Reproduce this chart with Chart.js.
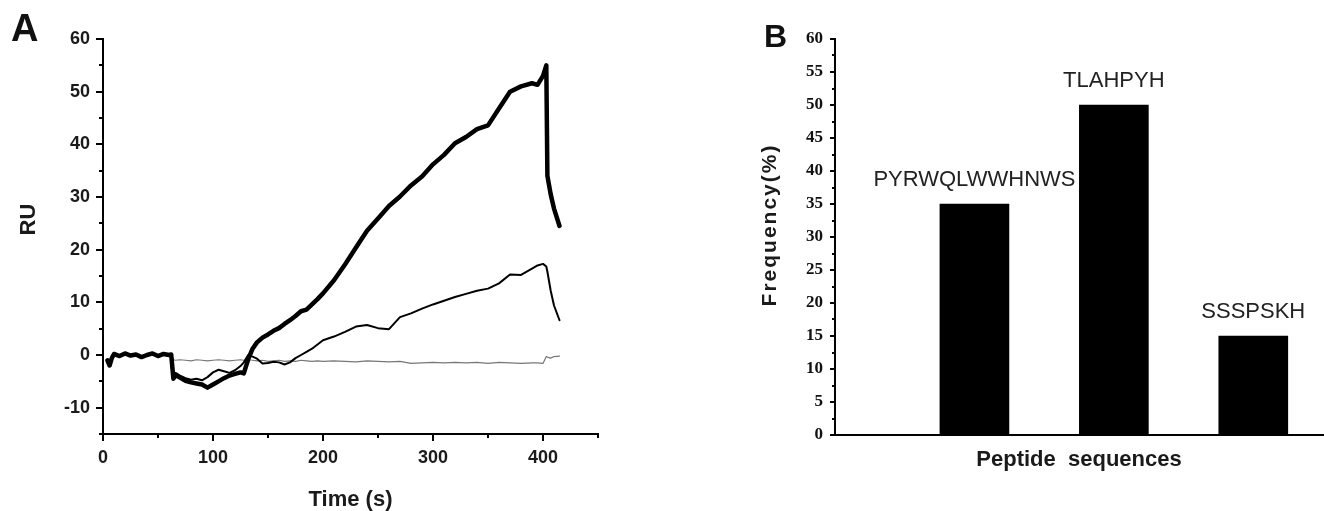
<!DOCTYPE html>
<html>
<head>
<meta charset="utf-8">
<script src="https://cdn.jsdelivr.net/npm/chart.js@4.4.0/dist/chart.umd.min.js"></script>
<style>
    body { margin: 0; background: #fff; width: 1324px; height: 511px; position: relative; overflow: hidden; font-family: "Liberation Sans", Arial, sans-serif; }
    .wrap { position: absolute; top: 0; height: 511px; }
    #wrapA { left: 0; width: 660px; }
    #wrapB { left: 660px; width: 664px; }
    .panel { position: absolute; font-weight: bold; color: #111; line-height: 1; }
</style>
</head>
<body>
<div class="wrap" id="wrapA"><canvas id="chartA"></canvas></div>
<div class="wrap" id="wrapB"><canvas id="chartB"></canvas></div>
<div class="panel" style="left:11px;top:9px;font-size:38px">A</div>
<div class="panel" style="left:764px;top:20px;font-size:32px">B</div>
<script>
// Panel A - sensorgram (RU vs time)
const timeSec = [4, 6, 8, 10, 15, 20, 25, 30, 35, 40, 45, 50, 55, 60, 62,
    64, 66, 70, 75, 80, 85, 90, 95, 100, 105, 110, 115, 120, 125, 128,
    132, 136,
    140, 145, 150, 155, 160, 165, 170, 175, 180, 185, 190, 195, 200,
    210, 220, 230, 240, 250, 260, 270, 280, 290, 300, 310, 320, 330, 340, 350, 360, 370, 380, 390,
    395, 400, 403, 404, 407, 410, 415];

const thickRU = [-1, -2, -0.6, 0.2, -0.2, 0.3, -0.1, 0.1, -0.4, 0, 0.3, -0.2, 0.2, 0, 0.1,
    -4.5, -3.8, -4.3, -4.9, -5.2, -5.4, -5.6, -6.2, -5.6, -5, -4.4, -3.9, -3.6, -3.3, -3.5,
    -0.8, 1.2,
    2.4, 3.3, 3.9, 4.6, 5.1, 5.9, 6.6, 7.4, 8.3, 8.6, 9.6, 10.6, 11.7,
    14.2, 17.2, 20.4, 23.6, 25.9, 28.3, 30.1, 32.2, 33.9, 36.2, 38, 40.2, 41.4, 42.9, 43.6, 46.8, 50, 51, 51.6,
    51.3, 53, 55, 34, 30.5, 27.8, 24.5];

const mediumRU = [-1, -2, -0.6, 0.2, -0.2, 0.3, -0.1, 0.1, -0.4, 0, 0.3, -0.2, 0.2, 0, 0.1,
    -4, -3.4, -3.9, -4.4, -4.7, -4.5, -4.8, -4.2, -3.3, -2.8, -3.1, -3.4, -2.9, -2.1, -1.4,
    0, -0.3,
    -0.7, -1.6, -1.5, -1.3, -1.4, -1.8, -1.4, -0.6, 0, 0.6, 1.2, 2, 2.8,
    3.5, 4.4, 5.4, 5.7, 5.1, 4.9, 7.2, 7.9, 8.8, 9.6, 10.3, 11, 11.6, 12.2, 12.6, 13.6, 15.3, 15.2, 16.4,
    17, 17.3, 16.8, 15.8, 12.2, 9.4, 6.6];

const thinRU = [-1, -2, -0.6, 0.2, -0.2, 0.3, -0.1, 0.1, -0.4, 0, 0.3, -0.2, 0.2, 0, 0.1,
    -0.9, -1, -0.9, -1, -1.1, -0.9, -1, -1.1, -1, -0.9, -1, -1.1, -1, -0.9, -1,
    -0.9, -1,
    -1.1, -1, -1.2, -1.1, -1, -1.2, -1.1, -1.2, -1, -1.1, -1.2, -1.1, -1.2,
    -1.1, -1.2, -1.3, -1.1, -1.2, -1.3, -1.2, -1.6, -1.5, -1.4, -1.5, -1.4, -1.5, -1.4, -1.6, -1.4, -1.5, -1.6, -1.5,
    -1.5, -1.6, -0.3, -0.4, -0.6, -0.3, -0.2];

const xTicksA = [0, 100, 200, 300, 400];
const yTicksA = [-10, 0, 10, 20, 30, 40, 50, 60];

// Panel B - peptide frequency
const peptides = ['PYRWQLWWHNWS', 'TLAHPYH', 'SSSPSKH'];
const peptidePos = [1, 2, 3];
const frequency = [35, 50, 15];
const yTicksB = [0, 5, 10, 15, 20, 25, 30, 35, 40, 45, 50, 55, 60];

const sans = '"Liberation Sans", Arial, sans-serif';
const serif = '"Liberation Serif", "Times New Roman", serif';

// outward tick marks, long on major values and short in between
const tickMarks = {
    id: 'tickMarks',
    afterDraw(chart, args, opts) {
        const ctx = chart.ctx;
        (opts.axes || []).forEach(function(a) {
            const scale = chart.scales[a.id];
            ctx.save();
            ctx.strokeStyle = '#000';
            ctx.lineWidth = 2;
            for (let v = scale.min; v <= scale.max + 1e-9; v += a.minor) {
                const q = v / a.major;
                const len = Math.abs(q - Math.round(q)) < 1e-6 ? a.majorLen : a.minorLen;
                const p = Math.round(scale.getPixelForValue(v));
                ctx.beginPath();
                if (scale.isHorizontal()) {
                    ctx.moveTo(p, scale.top);
                    ctx.lineTo(p, scale.top + len);
                } else {
                    ctx.moveTo(scale.right - len, p);
                    ctx.lineTo(scale.right, p);
                }
                ctx.stroke();
            }
            ctx.restore();
        });
    }
};

// rotated y-axis title, placed a bit off the axis centre like the original
const yTitle = {
    id: 'yTitle',
    afterDraw(chart, args, o) {
        const ctx = chart.ctx;
        const area = chart.chartArea;
        ctx.save();
        ctx.translate(o.x, (area.top + area.bottom) / 2 + o.dy);
        ctx.rotate(-Math.PI / 2);
        ctx.font = 'bold ' + o.size + 'px ' + sans;
        ctx.letterSpacing = o.spacing || '0px';
        ctx.fillStyle = '#1a1a1a';
        ctx.textAlign = 'center';
        ctx.textBaseline = 'middle';
        ctx.fillText(o.text, 0, 0);
        ctx.restore();
    }
};

const barNames = {
    id: 'barNames',
    afterDatasetsDraw(chart) {
        const ctx = chart.ctx;
        const meta = chart.getDatasetMeta(0);
        ctx.save();
        ctx.font = '22px ' + sans;
        ctx.fillStyle = '#222';
        ctx.textAlign = 'center';
        ctx.textBaseline = 'middle';
        meta.data.forEach(function(bar, i) {
            ctx.fillText(peptides[i], bar.x, bar.y - 24);
        });
        ctx.restore();
    }
};

function series(values) {
    return values.map(function(v, i) { return { x: timeSec[i], y: v }; });
}

new Chart(document.getElementById('chartA').getContext('2d'), {
    type: 'line',
    data: {
        datasets: [
            { data: series(thickRU), borderColor: '#000', borderWidth: 4.5 },
            { data: series(mediumRU), borderColor: '#000', borderWidth: 2 },
            { data: series(thinRU), borderColor: '#777', borderWidth: 1.2 }
        ]
    },
    options: {
        responsive: true,
        maintainAspectRatio: false,
        animation: false,
        elements: { point: { radius: 0 }, line: { tension: 0, borderJoinStyle: 'round', borderCapStyle: 'round' } },
        layout: { padding: { left: 0, top: 39, right: 62, bottom: 0 } },
        plugins: {
            legend: { display: false },
            tooltip: { enabled: false },
            tickMarks: {
                axes: [
                    { id: 'x', minor: 50, major: 100, majorLen: 7, minorLen: 4 },
                    { id: 'y', minor: 5, major: 10, majorLen: 7, minorLen: 4 }
                ]
            },
            yTitle: { text: 'RU', x: 29, dy: -17, size: 22 }
        },
        scales: {
            x: {
                type: 'linear',
                min: 0,
                max: 450,
                afterBuildTicks: function(s) { s.ticks = xTicksA.map(function(v) { return { value: v }; }); },
                afterFit: function(s) { s.height = 77; },
                grid: { display: false, drawTicks: false },
                border: { display: true, color: '#000', width: 2 },
                ticks: { color: '#1a1a1a', padding: 13, maxRotation: 0, font: { family: sans, size: 18, weight: 'bold' } },
                title: { display: true, text: 'Time (s)', color: '#1a1a1a', padding: { top: 0, bottom: -2 }, font: { family: sans, size: 22, weight: 'bold' } }
            },
            y: {
                min: -15,
                max: 60,
                afterBuildTicks: function(s) { s.ticks = yTicksA.map(function(v) { return { value: v }; }); },
                afterFit: function(s) { s.width = 103; },
                grid: { display: false, drawTicks: false },
                border: { display: true, color: '#000', width: 2 },
                ticks: { color: '#1a1a1a', padding: 13, font: { family: sans, size: 18, weight: 'bold' } }
            }
        }
    },
    plugins: [tickMarks, yTitle]
});

new Chart(document.getElementById('chartB').getContext('2d'), {
    type: 'bar',
    data: {
        datasets: [{
            data: frequency.map(function(v, i) { return { x: peptidePos[i], y: v }; }),
            backgroundColor: '#000',
            borderWidth: 0,
            barThickness: 69
        }]
    },
    options: {
        responsive: true,
        maintainAspectRatio: false,
        animation: false,
        layout: { padding: { left: 0, top: 39, right: 1, bottom: 0 } },
        plugins: {
            legend: { display: false },
            tooltip: { enabled: false },
            tickMarks: {
                axes: [
                    { id: 'y', minor: 2.5, major: 5, majorLen: 5, minorLen: 3 }
                ]
            },
            yTitle: { text: 'Frequency(%)', x: 110, dy: -12, size: 21, spacing: '2px' }
        },
        scales: {
            x: {
                type: 'linear',
                min: 0,
                max: 3.5,
                offset: false,
                afterFit: function(s) { s.height = 76; },
                grid: { display: false, drawTicks: false },
                border: { display: true, color: '#000', width: 2 },
                ticks: { display: false },
                title: { display: true, text: 'Peptide  sequences', color: '#1a1a1a', padding: { top: 0, bottom: 38 }, font: { family: sans, size: 22, weight: 'bold' } }
            },
            y: {
                min: 0,
                max: 60,
                afterBuildTicks: function(s) { s.ticks = yTicksB.map(function(v) { return { value: v }; }); },
                afterFit: function(s) { s.width = 175; },
                grid: { display: false, drawTicks: false },
                border: { display: true, color: '#000', width: 2 },
                ticks: { color: '#111', padding: 12, font: { family: serif, size: 17, weight: 'bold' } }
            }
        }
    },
    plugins: [tickMarks, barNames, yTitle]
});
</script>
</body>
</html>
